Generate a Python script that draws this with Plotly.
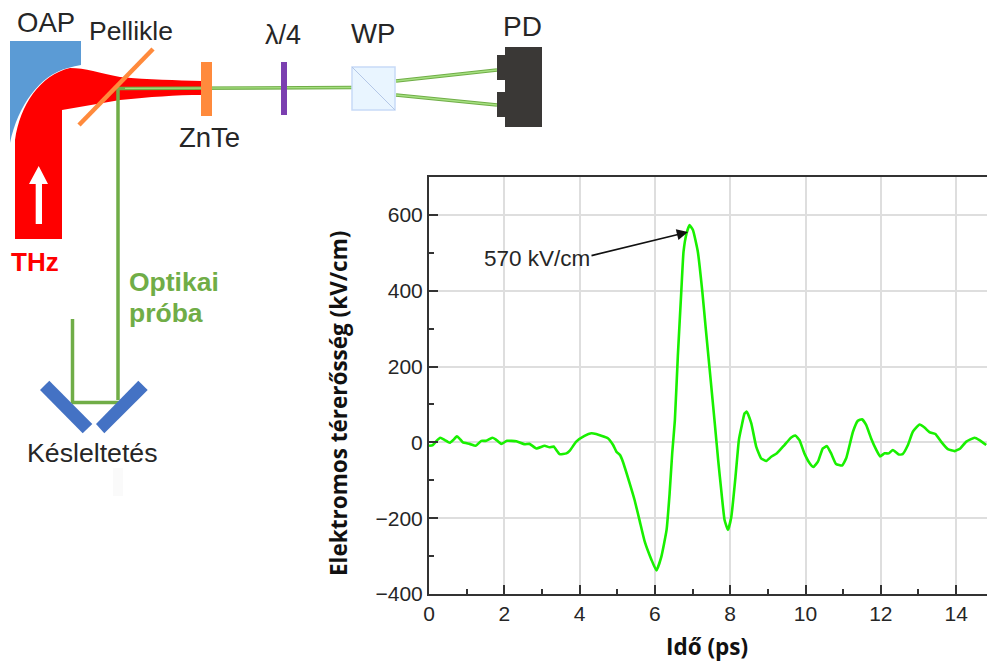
import plotly.graph_objects as go

# ---- chart data ----
time_ps = [0,0.1,0.2,0.3,0.42,0.55,0.64,0.74,0.81,0.9,1.08,1.24,1.39,1.52,1.68,1.77,1.92,2.07,2.32,2.54,2.67,2.85,3.07,3.2,3.31,3.47,3.65,3.74,3.91,4.13,4.31,4.44,4.75,4.89,4.98,5.07,5.15,5.33,5.46,5.6,5.73,5.91,6.04,6.17,6.31,6.39,6.46,6.53,6.61,6.7,6.76,6.84,6.92,7.01,7.14,7.26,7.35,7.47,7.59,7.68,7.77,7.85,7.94,8.03,8.14,8.23,8.3,8.38,8.44,8.56,8.69,8.82,8.96,9.09,9.24,9.44,9.62,9.73,9.84,9.97,10.11,10.21,10.33,10.46,10.57,10.68,10.81,10.97,11.08,11.26,11.39,11.5,11.61,11.74,11.88,11.98,12.1,12.21,12.32,12.48,12.58,12.72,12.85,13.03,13.16,13.29,13.45,13.6,13.78,13.96,14.11,14.27,14.49,14.62,14.8]
field_kv_cm = [-9,-7,4,12,6,-1,6,16,10,0,-4,-9,4,4,12,8,-4,4,3,-5,-4,-16,-9,-13,-11,-31,-29,-22,2,17,24,22,11,-7,-25,-33,-51,-108,-152,-209,-262,-310,-338,-302,-231,-135,-28,58,230,397,503,551,573,560,503,397,301,176,50,-47,-134,-205,-231,-196,-91,6,41,76,81,50,-11,-42,-49,-38,-29,-7,13,18,6,-29,-55,-65,-51,-16,-10,-29,-57,-61,-42,28,57,61,46,11,-20,-37,-29,-29,-20,-32,-31,-7,28,47,39,27,22,2,-18,-23,-16,2,12,6,-7]
x_ticks = [0,2,4,6,8,10,12,14]
y_ticks = [-400,-200,0,200,400,600]

# ---- schematic labels (text, x, y, size, colour, weight) ----
labels = [
    ("OAP", 45.5, 22, 27.5, "#262626", "normal"),
    ("Pellikle", 130.5, 31, 26.5, "#262626", "normal"),
    ("λ/4", 282.5, 35, 27, "#262626", "normal"),
    ("ZnTe", 209, 137, 27.5, "#262626", "normal"),
    ("WP", 372.5, 33, 27.5, "#262626", "normal"),
    ("PD", 522, 26, 28, "#262626", "normal"),
    ("THz", 35, 262, 26, "#ff0000", "bold"),
    ("Optikai", 174, 282, 26.5, "#70ad47", "bold"),
    ("próba", 166, 313, 26.5, "#70ad47", "bold"),
    ("Késleltetés", 92, 453, 26.7, "#262626", "normal"),
    ("570 kV/cm", 536.5, 258, 22.5, "#262626", "normal"),
]

W, H = 987, 662
L, T, B = 429, 177, 594


def poly(d, fill, line="rgba(0,0,0,0)", lw=0):
    return dict(type="path", path=d, xref="x2", yref="y2", fillcolor=fill,
                line=dict(color=line, width=lw), layer="above")


def seg(x0, y0, x1, y1, color, w):
    return dict(type="line", x0=x0, y0=y0, x1=x1, y1=y1, xref="x2", yref="y2",
                line=dict(color=color, width=w), layer="above")


def box(x0, y0, x1, y1, fill, line="rgba(0,0,0,0)", lw=0):
    return dict(type="rect", x0=x0, y0=y0, x1=x1, y1=y1, xref="x2", yref="y2",
                fillcolor=fill, line=dict(color=line, width=lw), layer="above")


GREEN = "#70ad47"
LIGHT = "#a5e080"
shapes = [
    box(113, 468, 123, 496, "#fafafa"),
    poly("M10,41 L81,41 L81,65 Q75,66 68,68 C40,75 18,105 10,143 Z", "#5b9bd5"),
    poly("M15,239 L62,239 L62,110 L120,100 C150,97 175,95 202,95 L202,81 "
         "C175,80 150,80 120,77 C100,73 85,68 70,68 C40,75 20,105 15,140 Z", "#ff0000"),
    poly("M35.7,224 L42,224 L42,184 L48,184 L38.7,166 L29,184 L35.7,184 Z", "#ffffff"),
    seg(118, 400, 118, 88.5, GREEN, 3.5),
    seg(117, 88.5, 352, 87.5, GREEN, 3.5),
    seg(125, 88.4, 352, 87.5, LIGHT, 1.3),
    seg(72.5, 319, 72.5, 403, GREEN, 3.5),
    seg(72, 402.5, 119, 402.5, GREEN, 3.5),
    seg(153, 49, 79, 125, "#ff8a3c", 4.5),
    box(201, 62, 212, 116, "#ff8a3c"),
    box(281, 62, 287, 115, "#7b3fb0"),
    seg(396, 81, 497, 70, GREEN, 3.5),
    seg(396, 81, 497, 70, LIGHT, 1.3),
    seg(396, 95, 497, 105, GREEN, 3.5),
    seg(396, 95, 497, 105, LIGHT, 1.3),
    box(352, 67, 395, 110, "#e9f5ff", "#c8daf7", 1.5),
    seg(352, 67, 395, 110, "#b4c7e7", 1),
    box(505, 47, 542, 127, "#3a3836"),
    box(497, 55, 506, 80, "#3a3836"),
    box(497, 92, 506, 117, "#3a3836"),
    poly("M49.3,380.7 L40,390 L82.7,433.3 L92.3,424 Z", "#4472c4"),
    poly("M138.3,380.7 L147.7,390 L104.3,433.3 L96,424 Z", "#4472c4"),
]

annotations = [
    dict(text=f"<b>{t}</b>" if wt == "bold" else t, x=x, y=y, xref="x2", yref="y2",
         showarrow=False,
         font=dict(family="Liberation Sans", size=s, color=c))
    for t, x, y, s, c, wt in labels
]
annotations.append(dict(
    text="", x=688, y=232, ax=590, ay=256,
    xref="x2", yref="y2", axref="x2", ayref="y2",
    showarrow=True, arrowhead=2, arrowsize=1.4, arrowwidth=1.6, arrowcolor="#111111",
    standoff=0, startstandoff=0,
))
title_font = dict(family="Open Sans", size=22.5, color="#111111", weight="bold")
annotations.append(dict(text="Idő (ps)", x=707, y=646, xref="x2", yref="y2",
                        showarrow=False, font=title_font))
annotations.append(dict(text="Elektromos térerősség (kV/cm)", x=338, y=404, xref="x2", yref="y2",
                        textangle=-90, showarrow=False, font=title_font))

fig = go.Figure()
fig.add_trace(go.Scatter(
    x=time_ps, y=field_kv_cm, mode="lines", showlegend=False,
    line=dict(color="#19f000", width=2.6, shape="spline", smoothing=0.4),
    xaxis="x", yaxis="y", hoverinfo="skip",
))
fig.add_trace(go.Scatter(x=[0], y=[0], mode="none", showlegend=False,
                         xaxis="x2", yaxis="y2", hoverinfo="skip"))

tick_font = dict(family="Liberation Sans", size=21, color="#262626")
GRID = "#dedede"
AX = "#333333"
fig.update_layout(
    width=W, height=H, autosize=False,
    margin=dict(l=0, r=0, t=0, b=0, autoexpand=False),
    paper_bgcolor="white", plot_bgcolor="rgba(0,0,0,0)", showlegend=False,
    xaxis=dict(
        domain=[L / W, 1], range=[0, 14.82], tickvals=x_ticks,
        ticks="inside", ticklen=9, tickwidth=2, tickcolor=AX,
        minor=dict(dtick=1, ticks="inside", ticklen=5, tickwidth=2, tickcolor=AX, showgrid=False),
        showgrid=True, gridcolor=GRID, gridwidth=1.5, zeroline=False,
        showline=True, linecolor=AX, linewidth=2, mirror=True,
        tickfont=tick_font, anchor="y", automargin=False,
    ),
    yaxis=dict(
        domain=[(H - B) / H, (H - T) / H], range=[-400, 700], tickvals=y_ticks,
        ticks="inside", ticklen=9, tickwidth=2, tickcolor=AX,
        minor=dict(dtick=100, tick0=0, ticks="inside", ticklen=5, tickwidth=2, tickcolor=AX, showgrid=False),
        showgrid=True, gridcolor=GRID, gridwidth=1.5, zeroline=False,
        showline=True, linecolor=AX, linewidth=2,
        tickfont=tick_font, anchor="x", automargin=False,
    ),
    xaxis2=dict(domain=[0, 1], range=[0, W], visible=False, fixedrange=True, anchor="y2"),
    yaxis2=dict(domain=[0, 1], range=[H, 0], visible=False, fixedrange=True, anchor="x2"),
    shapes=shapes,
    annotations=annotations,
)

fig.write_html("out.html", config=dict(displayModeBar=False),
               post_script="document.body.style.margin='0';document.body.style.overflow='hidden';")
